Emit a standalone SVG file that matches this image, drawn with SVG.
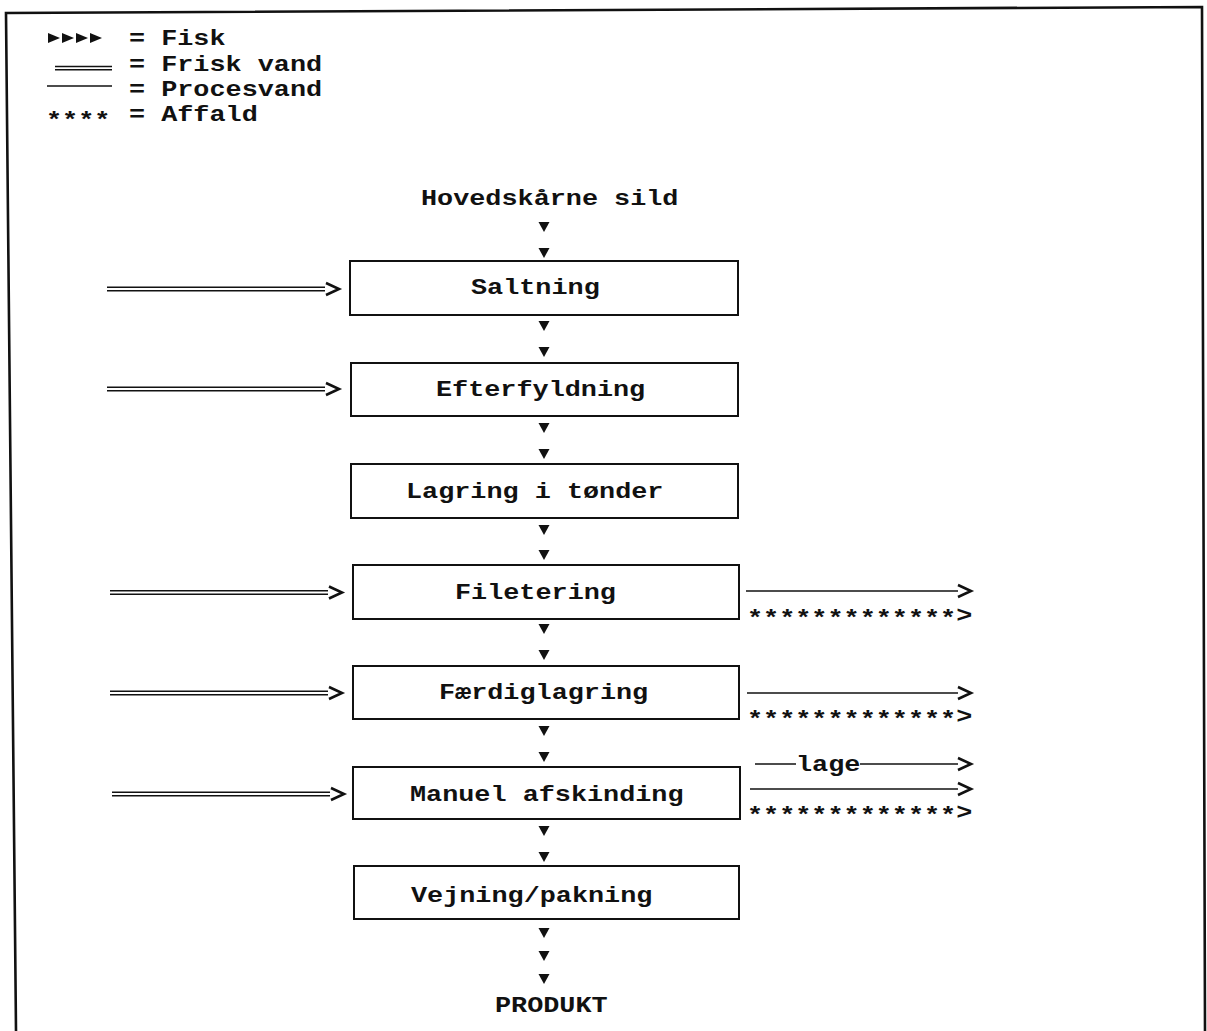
<svg xmlns="http://www.w3.org/2000/svg" width="1207" height="1031" viewBox="0 0 1207 1031">
  <style>
    .t { font-family: "Liberation Mono", "Courier New", monospace; font-weight: bold; font-size: 22px; fill: #111; }
    .box { fill: #fff; stroke: #111; stroke-width: 2; }
    .ln { fill: none; stroke: #111; stroke-width: 1.6; }
    .hd { fill: none; stroke: #111; stroke-width: 2.6; stroke-linejoin: miter; }
    .frame { fill: none; stroke: #111; stroke-width: 2.6; }
    .tri { fill: #111; }
  </style>
  <defs>
    <polygon id="down" class="tri" points="-5.5,0 5.5,0 0,10"/>
    <polygon id="right" class="tri" points="0,0 12,5 0,10"/>
    <!-- fresh-water feed: double line with chevron head -->
    <g id="feed">
      <line class="ln" x1="0" y1="-1.7" x2="218" y2="-1.7"/>
      <line class="ln" x1="0" y1="1.7" x2="218" y2="1.7"/>
      <polyline class="hd" points="219,-6 232,0 219,6"/>
    </g>
  </defs>

  <rect width="1207" height="1031" fill="#fff"/>

  <!-- page frame -->
  <polyline class="frame" points="16,1031 6,13 1202,7 1205,1031"/>

  <!-- legend (typewriter text is widened to a 16.1px pitch) -->
  <g id="legend">
    <use href="#right" x="48" y="33"/>
    <use href="#right" x="62" y="33"/>
    <use href="#right" x="76" y="33"/>
    <use href="#right" x="90" y="33"/>
    <text class="t" transform="translate(129,45) scale(1.22,1)">= Fisk</text>
    <line class="ln" x1="55" y1="66.5" x2="112" y2="66.5"/>
    <line class="ln" x1="55" y1="69.8" x2="112" y2="69.8"/>
    <text class="t" transform="translate(129,71) scale(1.22,1)">= Frisk vand</text>
    <line class="ln" x1="47" y1="86" x2="112" y2="86"/>
    <text class="t" transform="translate(129,96) scale(1.22,1)">= Procesvand</text>
    <text class="t" transform="translate(46,127) scale(1.22,1)">****</text>
    <text class="t" transform="translate(129,121) scale(1.22,1)">= Affald</text>
  </g>

  <!-- process steps -->
  <g id="start">
    <text class="t" transform="translate(421,205) scale(1.22,1)">Hovedskårne sild</text>
  </g>
  <g id="saltning">
    <rect class="box" x="350" y="261" width="388" height="54"/>
    <text class="t" transform="translate(471,294) scale(1.22,1)">Saltning</text>
  </g>
  <g id="efterfyldning">
    <rect class="box" x="351" y="363" width="387" height="53"/>
    <text class="t" transform="translate(436,396) scale(1.22,1)">Efterfyldning</text>
  </g>
  <g id="lagring">
    <rect class="box" x="351" y="464" width="387" height="54"/>
    <text class="t" transform="translate(406,498) scale(1.22,1)">Lagring i tønder</text>
  </g>
  <g id="filetering">
    <rect class="box" x="353" y="565" width="386" height="54"/>
    <text class="t" transform="translate(455,599) scale(1.22,1)">Filetering</text>
  </g>
  <g id="faerdiglagring">
    <rect class="box" x="353" y="666" width="386" height="53"/>
    <text class="t" transform="translate(439,699) scale(1.22,1)">Færdiglagring</text>
  </g>
  <g id="afskinding">
    <rect class="box" x="353" y="767" width="387" height="52"/>
    <text class="t" transform="translate(410,801) scale(1.22,1)">Manuel afskinding</text>
  </g>
  <g id="vejning">
    <rect class="box" x="354" y="866" width="385" height="53"/>
    <text class="t" transform="translate(411,902) scale(1.22,1)">Vejning/pakning</text>
  </g>
  <g id="produkt">
    <text class="t" transform="translate(495,1012) scale(1.22,1)">PRODUKT</text>
  </g>

  <g id="connectors">
    <!-- fish flow down the line -->
    <use href="#down" x="544" y="222"/>
    <use href="#down" x="544" y="248"/>
    <use href="#down" x="544" y="321"/>
    <use href="#down" x="544" y="347"/>
    <use href="#down" x="544" y="423"/>
    <use href="#down" x="544" y="449"/>
    <use href="#down" x="544" y="525"/>
    <use href="#down" x="544" y="550"/>
    <use href="#down" x="544" y="624"/>
    <use href="#down" x="544" y="650"/>
    <use href="#down" x="544" y="726"/>
    <use href="#down" x="544" y="752"/>
    <use href="#down" x="544" y="826"/>
    <use href="#down" x="544" y="852"/>
    <use href="#down" x="544" y="928"/>
    <use href="#down" x="544" y="951"/>
    <use href="#down" x="544" y="974"/>

    <!-- fresh water in -->
    <use href="#feed" x="107" y="289"/>
    <use href="#feed" x="107" y="389"/>
    <use href="#feed" x="110" y="592.5"/>
    <use href="#feed" x="110" y="693"/>
    <use href="#feed" x="112" y="794"/>

    <!-- process water and waste out -->
    <line class="ln" x1="746" y1="591" x2="958" y2="591"/>
    <polyline class="hd" points="958,585 971,591 958,597"/>
    <text class="t" transform="translate(747,622) scale(1.22,1)"><tspan dy="3">*************</tspan><tspan dy="-3">&gt;</tspan></text>

    <line class="ln" x1="747" y1="693" x2="958" y2="693"/>
    <polyline class="hd" points="958,687 971,693 958,699"/>
    <text class="t" transform="translate(747,723) scale(1.22,1)"><tspan dy="3">*************</tspan><tspan dy="-3">&gt;</tspan></text>

    <line class="ln" x1="755" y1="764" x2="796" y2="764"/>
    <text class="t" transform="translate(796,771) scale(1.22,1)">lage</text>
    <line class="ln" x1="860" y1="764" x2="958" y2="764"/>
    <polyline class="hd" points="958,758 971,764 958,770"/>
    <line class="ln" x1="750" y1="789" x2="958" y2="789"/>
    <polyline class="hd" points="958,783 971,789 958,795"/>
    <text class="t" transform="translate(747,819) scale(1.22,1)"><tspan dy="3">*************</tspan><tspan dy="-3">&gt;</tspan></text>
  </g>
</svg>
